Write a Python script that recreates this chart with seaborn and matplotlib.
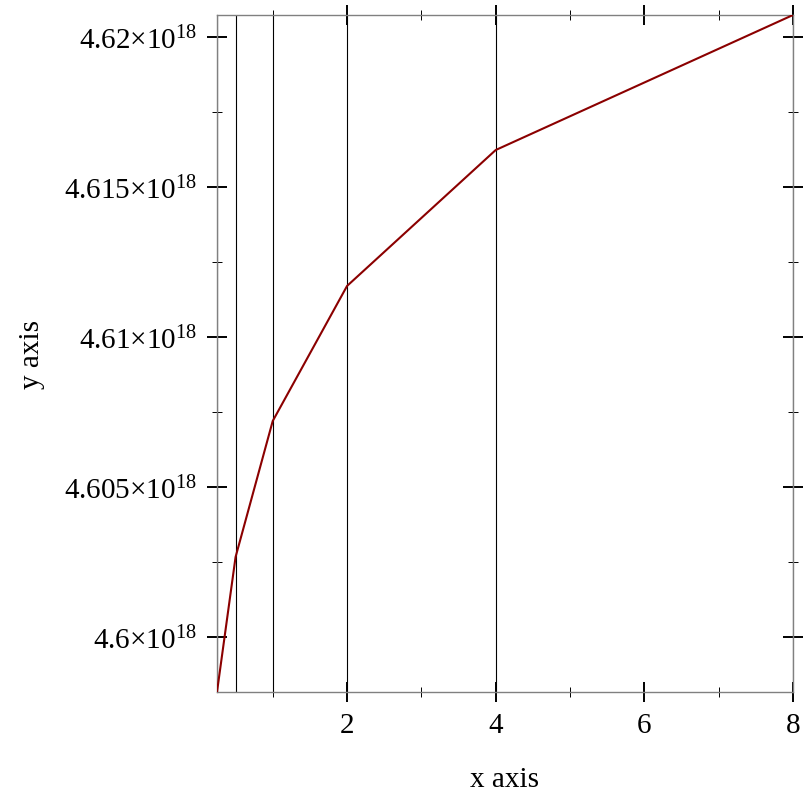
import numpy as np
import pandas as pd
import seaborn as sns
import matplotlib.pyplot as plt
from matplotlib.ticker import FuncFormatter, MultipleLocator

x_vals = [0.25, 0.5, 1, 2, 4, 8]
y_vals = [4.598167e18, 4.602667e18, 4.607200e18, 4.611700e18, 4.616230e18, 4.620730e18]
y_ticks = [4.600e18, 4.605e18, 4.610e18, 4.615e18, 4.620e18]
x_ticks = [2, 4, 6, 8]

sns.set_theme(style='white')
plt.rcParams['font.family'] = ['Liberation Serif', 'DejaVu Serif']
plt.rcParams['mathtext.fontset'] = 'custom'
plt.rcParams['mathtext.rm'] = 'Liberation Serif'
plt.rcParams['mathtext.it'] = 'Liberation Serif:italic'
plt.rcParams['text.color'] = 'black'
plt.rcParams['axes.labelcolor'] = 'black'
plt.rcParams['xtick.color'] = 'black'
plt.rcParams['ytick.color'] = 'black'

data = pd.DataFrame({'x': x_vals, 'y': y_vals})

fig = plt.figure(figsize=(8.12, 8.12), dpi=100)
ax = fig.add_axes([217 / 812, 1 - 693 / 812, (793 - 217) / 812, (693 - 16) / 812])

for xv in x_vals:
    ax.axvline(xv, color='black', lw=0.8, zorder=1)

sns.lineplot(data=data, x='x', y='y', color='#8b0000', lw=1.5, ax=ax, zorder=3)

ax.set_xlim(min(x_vals), max(x_vals))
ax.set_ylim(min(y_vals), max(y_vals))
ax.set_xticks(x_ticks)
ax.set_yticks(y_ticks)
ax.xaxis.set_minor_locator(MultipleLocator(1))
ax.yaxis.set_minor_locator(MultipleLocator(2.5e15))


def fmt(v, pos):
    m = v / 1e18
    s = ('%.3f' % m).rstrip('0').rstrip('.')
    return r'$\mathregular{%s{\times}10^{18}}$' % s


ax.yaxis.set_major_formatter(FuncFormatter(fmt))
ax.xaxis.set_major_formatter(FuncFormatter(lambda v, p: '%g' % v))

ax.tick_params(which='both', bottom=True, left=True, top=True, right=True)
ax.tick_params(which='major', direction='inout', length=15, width=1.4, color='black',
               labelsize=21, labelcolor='black')
ax.tick_params(which='minor', direction='inout', length=7.5, width=0.7, color='black')
ax.tick_params(axis='x', pad=7)
ax.tick_params(axis='y', pad=7)

for sp in ax.spines.values():
    sp.set_color('#808080')
    sp.set_linewidth(1)

ax.set_xlabel('x axis', fontsize=21, labelpad=20)
ax.set_ylabel('y axis', fontsize=21, labelpad=14)

fig.savefig('out.png', dpi=100)
